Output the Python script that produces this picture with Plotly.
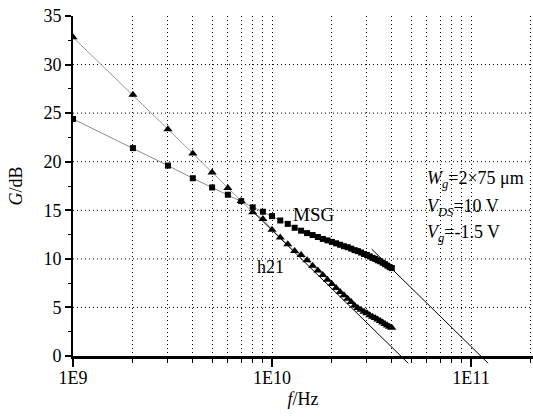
import math
import plotly.graph_objects as go

# ---------------- data (frequency in GHz, gain in dB) ----------------
f_low_ghz = [1, 2, 3, 4, 5, 6, 7]
h21_low = [32.8, 26.9, 23.35, 20.85, 18.9, 17.3, 15.95]
msg_low = [24.4, 21.4, 19.6, 18.3, 17.35, 16.6, 15.95]

f_hi_ghz = [8, 9, 10, 11, 12, 13, 14, 15, 16, 17, 18, 19, 20, 21, 22, 23, 24,
            25, 26, 27, 28, 29, 30, 31, 32, 33, 34, 35, 36, 37, 38, 39, 40]
h21_hi = [14.8, 14.1, 13.0, 12.2, 11.5, 10.8, 10.4, 9.85, 9.3, 8.8, 8.35, 7.85,
          7.4, 7.0, 6.6, 6.25, 5.9, 5.55, 5.2, 4.95, 4.75, 4.55, 4.4, 4.2,
          4.05, 3.9, 3.75, 3.6, 3.45, 3.3, 3.15, 3.0, 2.9]
msg_hi = [15.3, 14.85, 14.4, 13.95, 13.6, 13.2, 12.9, 12.65, 12.45, 12.25,
          12.05, 11.9, 11.75, 11.6, 11.45, 11.3, 11.2, 11.05, 10.9, 10.8,
          10.65, 10.5, 10.4, 10.25, 10.1, 10.0, 9.85, 9.75, 9.6, 9.45, 9.3,
          9.15, 9.05]

# -20 dB/decade extrapolation lines (f in Hz, G in dB)
h21_fit_f = [7.9e9, 4.84e10]
h21_fit_g = [15.0, -0.75]
msg_fit_f = [3.17e10, 1.22e11]
msg_fit_g = [11.0, -0.75]

# axis ticks
x_major = [1e9, 1e10, 1e11]
x_major_text = ["1E9", "1E10", "1E11"]
x_minor = [m * d for d in (1e9, 1e10, 1e11) for m in range(2, 10) if m * d <= 2.05e11]
y_major = [0, 5, 10, 15, 20, 25, 30, 35]
y_minor = [2.5, 7.5, 12.5, 17.5, 22.5, 27.5, 32.5]
y_grid = [5, 10, 15, 20, 25, 30]

# ---------------- figure ----------------
freq = [v * 1e9 for v in f_low_ghz + f_hi_ghz]
h21 = h21_low + h21_hi
msg = msg_low + msg_hi

FONT = "Liberation Serif"
W, H = 533, 418
ML, MR, MT, MB = 73, 0, 16, 52
plot_h = H - MT - MB          # 350
ext = 10                      # px below the 0 dB axis (for line tails)
main_h = plot_h - ext         # 340
ymin2 = -35.0 * ext / main_h
GRID = "1px,3px"

fig = go.Figure()

fig.add_trace(go.Scatter(
    x=freq, y=msg, mode="lines+markers",
    line=dict(color="#8a8a8a", width=1),
    marker=dict(symbol="square", size=6, color="black"),
    showlegend=False))
fig.add_trace(go.Scatter(
    x=freq, y=h21, mode="lines+markers",
    line=dict(color="#9a9a9a", width=1),
    marker=dict(symbol="triangle-up", size=8, color="black"),
    showlegend=False))

fig.add_trace(go.Scatter(
    x=h21_fit_f, y=h21_fit_g, mode="lines", xaxis="x2", yaxis="y2",
    line=dict(color="black", width=1), showlegend=False))
fig.add_trace(go.Scatter(
    x=msg_fit_f, y=msg_fit_g, mode="lines", xaxis="x2", yaxis="y2",
    line=dict(color="black", width=1), showlegend=False))

xr = [9, 9 + (W - ML - MR) / 199.0]

shapes = [dict(type="line", xref="paper", x0=0, x1=1, yref="y", y0=v, y1=v,
               line=dict(color="black", width=1, dash=GRID), layer="below")
          for v in y_grid]

def ann(text, x, y, size=17, xanchor="left"):
    return dict(text=text, xref="paper", yref="paper", x=x, y=y,
                xanchor=xanchor, yanchor="middle", showarrow=False,
                font=dict(family=FONT, size=size, color="black"))

def px2paper(px, py):
    return (px - ML) / (W - ML - MR), (H - MB - py) / plot_h

annots = []
for txt, (px, py) in [
        ("<i>W</i><sub><i>g</i></sub>=2×75 μm", (425, 180)),
        ("<i>V</i><sub><i>DS</i></sub>=10 V", (425, 207)),
        ("<i>V</i><sub><i>g</i></sub>=-1.5 V", (425, 234))]:
    x, y = px2paper(px, py)
    annots.append(ann(txt, x, y, size=18))
x, y = px2paper(313, 214)
annots.append(ann("MSG", x, y, size=19, xanchor="center"))
x, y = px2paper(270, 267)
annots.append(ann("h21", x, y, size=18, xanchor="center"))

fig.update_layout(
    width=W, height=H,
    margin=dict(l=ML, r=MR, t=MT, b=MB),
    paper_bgcolor="white", plot_bgcolor="rgba(0,0,0,0)",
    font=dict(family=FONT, size=17, color="black"),
    shapes=shapes, annotations=annots,
    xaxis=dict(
        type="log", range=xr, domain=[0, 1], anchor="y",
        tickmode="array", tickvals=x_major, ticktext=x_major_text,
        ticks="outside", ticklen=8, tickwidth=1.5, tickcolor="black",
        ticklabelstandoff=-4,
        showline=True, linecolor="black", linewidth=2.5,
        showgrid=True, gridcolor="black", gridwidth=1, griddash=GRID,
        zeroline=False,
        tickfont=dict(family=FONT, size=18, color="black"),
        minor=dict(tickmode="array", tickvals=x_minor, ticks="outside",
                   ticklen=4, tickwidth=1, tickcolor="black",
                   showgrid=True, gridcolor="black", gridwidth=1,
                   griddash=GRID),
        title=dict(text="<i>f</i>/Hz", standoff=6,
                   font=dict(family=FONT, size=18, color="black")),
    ),
    yaxis=dict(
        range=[0, 35], domain=[ext / plot_h, 1], anchor="x",
        tickmode="array", tickvals=y_major,
        ticks="outside", ticklen=6, tickwidth=1.5, tickcolor="black",
        showline=True, linecolor="black", linewidth=2,
        showgrid=False, zeroline=False,
        tickfont=dict(family=FONT, size=18, color="black"),
        minor=dict(tickmode="array", tickvals=y_minor, ticks="outside",
                   ticklen=3.5, tickwidth=1, tickcolor="black", showgrid=False),
        title=dict(text="<i>G</i>/dB", standoff=16,
                   font=dict(family=FONT, size=18, color="black")),
    ),
    xaxis2=dict(type="log", range=xr, domain=[0, 1], anchor="y2",
                visible=False),
    yaxis2=dict(range=[ymin2, 35], domain=[0, 1], anchor="x2",
                visible=False),
)

fig.write_html("out.html",
               config={"displayModeBar": False},
               post_script="document.body.style.margin='0';")
